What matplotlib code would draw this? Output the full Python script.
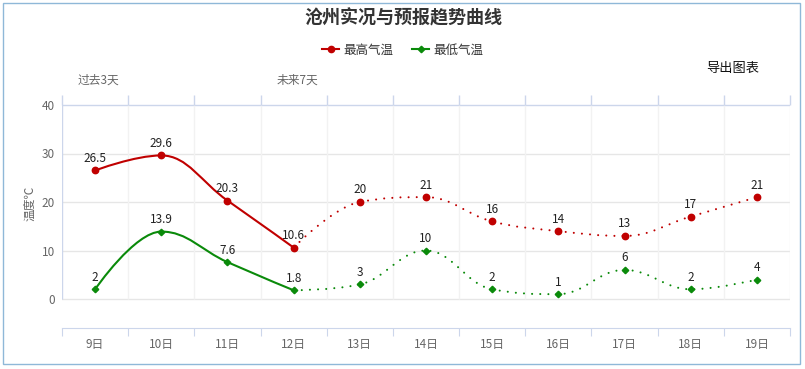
import matplotlib
matplotlib.use('Agg')
import matplotlib.pyplot as plt
from matplotlib.path import Path
from matplotlib.patches import PathPatch, Rectangle
from matplotlib.lines import Line2D
import numpy as np

plt.rcParams['font.family'] = ['Noto Sans CJK SC', 'DejaVu Sans']

days = ['9日', '10日', '11日', '12日', '13日', '14日', '15日', '16日', '17日', '18日', '19日']
high_temp = [26.5, 29.6, 20.3, 10.6, 20, 21, 16, 14, 13, 17, 21]
low_temp = [2, 13.9, 7.6, 1.8, 3, 10, 2, 1, 6, 2, 4]
n_past = 4  # 9日..12日 are observed, 12日..19日 forecast

RED = '#c00000'
GREEN = '#0a8a0a'
GRAY = '#666666'
AXIS = '#ccd6eb'


def spline_path(xs, ys):
  # smooth curve like a highcharts spline, built from bezier segments
  smoothing = 1.5
  denom = smoothing + 1
  n = len(xs)
  right = [None] * n
  left = [None] * n
  for i in range(1, n - 1):
    x, y = xs[i], ys[i]
    lx, ly = xs[i - 1], ys[i - 1]
    nx, ny = xs[i + 1], ys[i + 1]
    lcx = (smoothing * x + lx) / denom
    lcy = (smoothing * y + ly) / denom
    rcx = (smoothing * x + nx) / denom
    rcy = (smoothing * y + ny) / denom
    corr = 0
    if rcx != lcx:
      corr = ((rcy - lcy) * (rcx - x)) / (rcx - lcx) + y - rcy
    lcy += corr
    rcy += corr
    if lcy > ly and lcy > y:
      lcy = max(ly, y)
      rcy = 2 * y - lcy
    elif lcy < ly and lcy < y:
      lcy = min(ly, y)
      rcy = 2 * y - lcy
    if rcy > ny and rcy > y:
      rcy = max(ny, y)
      lcy = 2 * y - rcy
    elif rcy < ny and rcy < y:
      rcy = min(ny, y)
      lcy = 2 * y - rcy
    left[i] = (lcx, lcy)
    right[i] = (rcx, rcy)
  verts = [(xs[0], ys[0])]
  codes = [Path.MOVETO]
  for i in range(1, n):
    c1 = right[i - 1] if right[i - 1] else (xs[i - 1], ys[i - 1])
    c2 = left[i] if left[i] else (xs[i], ys[i])
    verts += [c1, c2, (xs[i], ys[i])]
    codes += [Path.CURVE4] * 3
  return Path(verts, codes)


fig = plt.figure(figsize=(8.05, 3.69), dpi=100)
W, H = 805, 369
px_per = 194 / 40.0
ax = fig.add_axes([62 / W, 1 - 328 / H, 728 / W, 233 / H])
ax.set_xlim(-0.5, 10.5)
ax.set_ylim(-(328 - 299) / px_per, 40 + (105 - 95) / px_per)
ytop = ax.get_ylim()[1]

for s in ['top', 'left', 'right']:
  ax.spines[s].set_visible(False)
ax.spines['bottom'].set_color(AXIS)

xs = np.arange(len(days))
bounds = np.arange(-0.5, len(days), 1)

# grid
for yv in [0, 10, 20, 30]:
  ax.axhline(yv, color='#e6e6e6', lw=1, zorder=0)
ax.axhline(40, color=AXIS, lw=1, zorder=0)
ax.vlines(bounds[1:], 0, 40, color='#f2f2f2', lw=1, zorder=0)
ax.vlines(bounds, 40, ytop, color=AXIS, lw=1, zorder=0, clip_on=False)
ax.vlines([-0.5], 0, 40, color=AXIS, lw=1, zorder=0)

ax.set_yticks([0, 10, 20, 30, 40])
ax.tick_params(axis='y', length=0, pad=5, labelsize=8.5, labelcolor=GRAY)
ax.set_xticks(bounds)
ax.set_xticklabels([])
ax.set_xticks(xs, minor=True)
ax.set_xticklabels(days, minor=True)
ax.tick_params(axis='x', which='major', length=6, color=AXIS, direction='out')
ax.tick_params(axis='x', which='minor', length=0, pad=7, labelsize=8.5, labelcolor=GRAY)

lw = 1.5
for vals, col, mk, ms in [(high_temp, RED, 'o', 4.6), (low_temp, GREEN, 'D', 3.3)]:
  px, py = xs[:n_past], vals[:n_past]
  ax.add_patch(PathPatch(spline_path(list(px), list(py)), fc='none', ec=col, lw=lw, zorder=3))
  fx, fy = xs[n_past - 1:], vals[n_past - 1:]
  ax.add_patch(PathPatch(spline_path(list(fx), list(fy)), fc='none', ec=col, lw=lw,
                         linestyle=(0, (0.01, 3.9)), capstyle='round', zorder=3))
  ax.plot(xs, vals, linestyle='none', marker=mk, color=col, ms=ms, zorder=4)
  for x, v in zip(xs, vals):
    ax.annotate('%g' % v, (x, v), xytext=(0, 4), textcoords='offset points',
                ha='center', va='bottom', fontsize=8.5, color='#222222', zorder=5)

# texts
fig.text(403 / W, 1 - 18 / H, '沧州实况与预报趋势曲线', ha='center', va='center',
         fontsize=13, fontweight='bold', color='#333333')
fig.text(30 / W, 1 - 203 / H, '温度℃', rotation=90, ha='center', va='center',
         fontsize=8.5, color=GRAY)
fig.text(98 / W, 1 - 80 / H, '过去3天', ha='center', va='center', fontsize=8.5, color=GRAY)
fig.text(297 / W, 1 - 80 / H, '未来7天', ha='center', va='center', fontsize=8.5, color=GRAY)
fig.text(733 / W, 1 - 68 / H, '导出图表', ha='center', va='center', fontsize=9.5, color='#111111')

handles = [Line2D([], [], color=RED, marker='o', ms=4.5, lw=lw),
           Line2D([], [], color=GREEN, marker='D', ms=3.3, lw=lw)]
fig.legend(handles, ['最高气温', '最低气温'], loc='center', bbox_to_anchor=(403 / W, 1 - 50 / H),
           ncol=2, frameon=False, fontsize=9, handlelength=1.3, handletextpad=0.4,
           columnspacing=1.5, labelcolor='#333333')

fig.patches.append(Rectangle((3 / W, 1 - 364 / H), 797 / W, 361 / H, transform=fig.transFigure,
                             fill=False, ec='#8fb8d8', lw=1))

fig.savefig('out.png', dpi=100)
